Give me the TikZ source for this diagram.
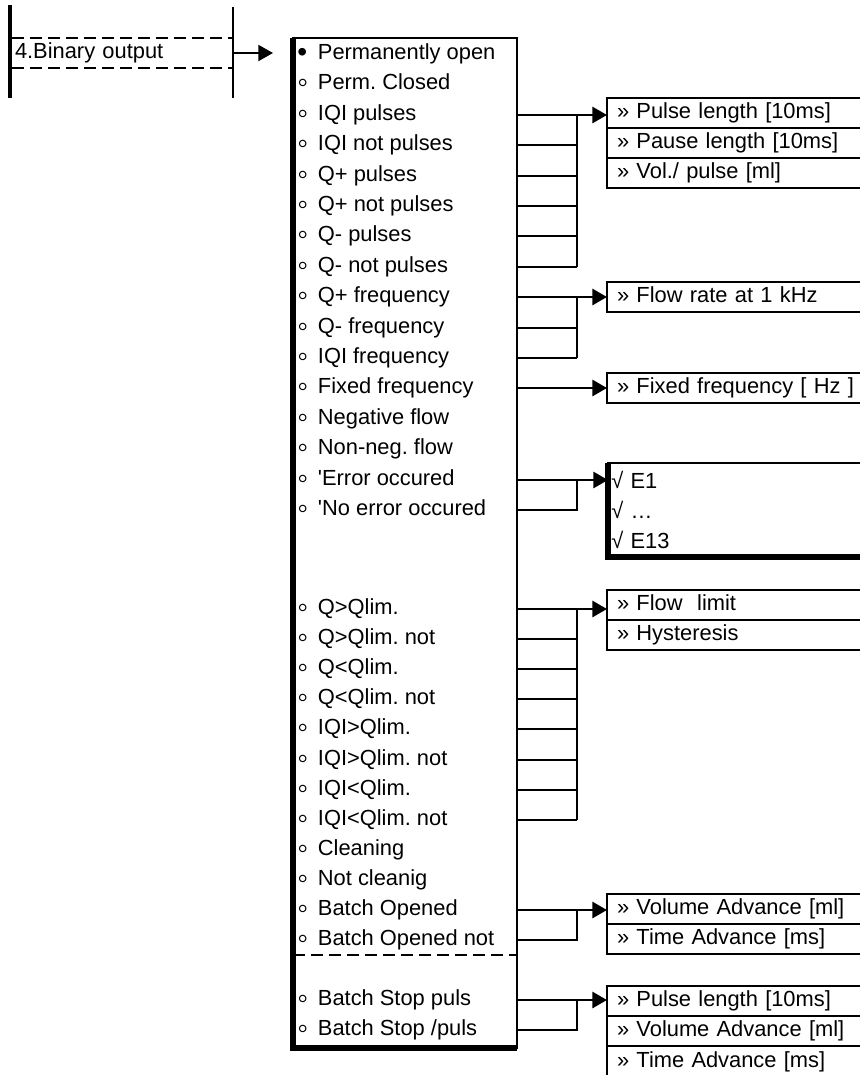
\documentclass[tikz,border=0pt]{standalone}
\usepackage{fontspec}
\setmainfont{Liberation Sans}
\usetikzlibrary{arrows.meta, positioning}

\tikzset{
  wire/.style={line width=2.2pt},
  arr/.style={wire, -{Triangle[length=11pt, width=12pt]}},
  dashline/.style={line width=1.5pt, dash pattern=on 9pt off 4.5pt},
  opt/.style={anchor=west, inner sep=0pt, text height=11pt, text depth=3pt},
  par/.style={draw, line width=1.5pt, outer sep=0pt, minimum width=205pt,
              minimum height=22.5pt, text width=190pt, align=left,
              inner xsep=7.5pt, inner ysep=0pt, text height=11pt, text depth=3pt},
}
\newcommand{\opnt}[1]{\makebox[15.5pt][l]{\raisebox{-2pt}{\fontsize{23pt}{23pt}\selectfont ◦}}#1}
\newcommand{\opsel}[1]{\makebox[15.5pt][l]{\raisebox{-1.5pt}{\fontsize{21pt}{21pt}\selectfont •}}#1}

\begin{document}
\begin{tikzpicture}[x=0.75pt, y=-0.75pt, font=\fontsize{16.4pt}{22.5pt}\selectfont\frenchspacing]
  \clip (0,0) rectangle (860,1075);

  % menu item on the left
  \node[anchor=west, minimum width=165.75pt, minimum height=22.5pt, text width=161.25pt,
        align=left, inner xsep=2.25pt, inner ysep=0pt, outer sep=0pt] (binout) at (12,53)
        {4.Binary output};
  \draw[line width=3.5pt] (10,5) -- (10,98);
  \draw[line width=1.5pt] (binout.east |- 0,7) -- (binout.east |- 0,98);
  \draw[dashline] (binout.north west) -- (binout.north east);
  \draw[dashline] (binout.south west) -- (binout.south east);

  % list of choices
  \node[draw, line width=1.5pt, outer sep=0pt, minimum width=168pt, minimum height=757.5pt,
        anchor=north west] (lst) at (293,38) {};
  \draw[line width=4.5pt] (lst.north west) -- (lst.south west) -- (lst.south east);
  \draw[dashline] (lst.west |- 0,955) -- (lst.east |- 0,955);
  \draw[arr, line width=1.5pt, shorten >=15pt] (binout.east) -- (binout.east -| lst.west);

  \node[opt] (r0) at (297,54) {\opsel{Permanently open}};
  \foreach \n/\y/\t in {1/84/Perm. Closed, 2/115/IQI pulses, 3/145/IQI not pulses,
      4/176/Q+ pulses, 5/206/Q+ not pulses, 6/236/Q- pulses, 7/267/Q- not pulses,
      8/297/Q+ frequency, 9/328/Q- frequency, 10/358/IQI frequency,
      11/388/Fixed frequency, 12/419/Negative flow, 13/449/Non-neg. flow,
      14/480/{\textquotesingle}Error occured, 15/510/{\textquotesingle}No error occured,
      17/609/Q>Qlim., 18/639/Q>Qlim. not, 19/669/Q<Qlim., 20/699/Q<Qlim. not,
      21/729/IQI>Qlim., 22/760/IQI>Qlim. not, 23/790/IQI<Qlim., 24/820/IQI<Qlim. not,
      25/850/Cleaning, 26/880/Not cleanig, 27/910/Batch Opened, 28/940/Batch Opened not,
      30/1000/Batch Stop puls, 31/1030/{Batch Stop /puls}}
    \node[opt] (r\n) at (297,\y) {\opnt{\t}};

  % parameter boxes
  \node[par, anchor=north west] (pl) at (607,98) {» Pulse length [10ms]};
  \node[par, below=0pt of pl] (ps) {» Pause length [10ms]};
  \node[par, below=0pt of ps] (vp) {» Vol./ pulse [ml]};
  \node[par, anchor=north west] (fr) at (607,282) {» Flow rate at 1 kHz};
  \node[par, anchor=north west] (ff) at (607,373) {» Fixed frequency [ Hz ]};
  \node[draw, line width=1.5pt, outer sep=0pt, minimum width=204pt, minimum height=70.5pt,
        text width=199pt, align=left, inner xsep=2.25pt, anchor=north west] (err)
        at (608,463) {√ E1\\√ …\\√ E13};
  \draw[line width=4.5pt] (err.north west) -- (err.south west) -- (err.south east);
  \node[par, anchor=north west] (fl) at (607,590) {» Flow\ \ limit};
  \node[par, below=0pt of fl] (hy) {» Hysteresis};
  \node[par, anchor=north west] (va) at (607,894) {» Volume Advance [ml]};
  \node[par, below=0pt of va] (ta) {» Time Advance [ms]};
  \node[par, anchor=north west] (pl2) at (607,986) {» Pulse length [10ms]};
  \node[par, below=0pt of pl2] (va2) {» Volume Advance [ml]};
  \node[par, below=0pt of va2, minimum height=24pt] (ta2) {» Time Advance [ms]};

  % connectors
  \coordinate (jct) at (577,0);
  \draw[arr] (lst.east |- r2) -- (pl.west |- r2);
  \foreach \k in {3,...,7} \draw[wire] (lst.east |- r\k) -- (jct |- r\k);
  \draw[wire] (jct |- r2) -- (jct |- r7);

  \draw[arr] (lst.east |- r8) -- (fr.west |- r8);
  \foreach \k in {9,10} \draw[wire] (lst.east |- r\k) -- (jct |- r\k);
  \draw[wire] (jct |- r8) -- (jct |- r10);

  \draw[arr] (lst.east |- r11) -- (ff.west |- r11);

  \draw[arr] (lst.east |- r14) -- (err.west |- r14);
  \draw[wire] (lst.east |- r15) -| (jct |- r14);

  \draw[arr] (lst.east |- r17) -- (fl.west |- r17);
  \foreach \k in {18,...,24} \draw[wire] (lst.east |- r\k) -- (jct |- r\k);
  \draw[wire] (jct |- r17) -- (jct |- r24);

  \draw[arr] (lst.east |- r27) -- (va.west |- r27);
  \draw[wire] (lst.east |- r28) -| (jct |- r27);

  \draw[arr] (lst.east |- r30) -- (pl2.west |- r30);
  \draw[wire] (lst.east |- r31) -| (jct |- r30);
\end{tikzpicture}
\end{document}
